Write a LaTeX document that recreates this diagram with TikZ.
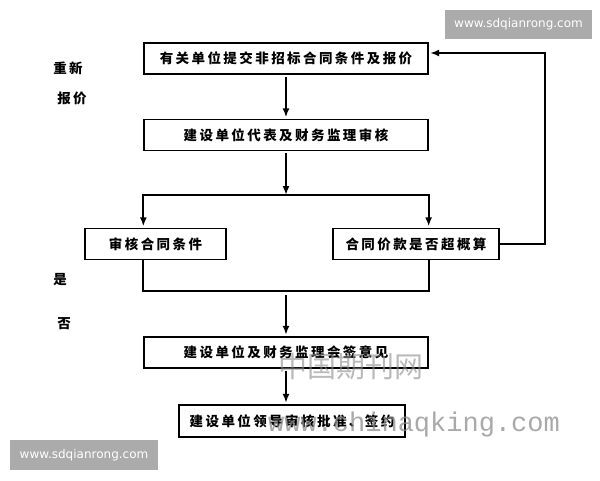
\documentclass[tikz,border=0pt]{standalone}
\usepackage{fontspec}
\newfontfamily\cjk[LetterSpace=18]{Noto Sans CJK SC}
\newfontfamily\wmcjk{Noto Sans CJK SC}
\newfontfamily\badgefont{DejaVu Sans}
\newfontfamily\markfont{Liberation Mono}
\usetikzlibrary{arrows.meta,positioning,calc}

\definecolor{badgegray}{HTML}{ABABAB}
\definecolor{markgray}{HTML}{8C8C8C}

\tikzset{
    box/.style={draw, line width=1.3pt, minimum width=284pt, minimum height=31pt, inner sep=0pt,
        font=\cjk\bfseries\fontsize{13.5}{13.5}\selectfont},
    side/.style={font=\cjk\bfseries\fontsize{13.5}{13.5}\selectfont},
    flow/.style={line width=2pt},
    arrow/.style={flow, -{Latex[length=9pt,width=7pt]}, shorten >=1.5pt, shorten <=2pt},
    badge/.style={fill=badgegray, text=white, minimum width=148pt, minimum height=30pt, inner sep=0pt,
        font=\badgefont\fontsize{12}{12}\selectfont},
}

\begin{document}
\begin{tikzpicture}[x=1pt, y=-1pt]
    \useasboundingbox (0,0) rectangle (600,480);

    % Steps
    \node [box] (submit) at (286, 58.5) {有关单位提交非招标合同条件及报价};
    \node [box] (review) at (286, 135) {建设单位代表及财务监理审核};
    \node [box, minimum width=141pt] (terms) at (155.5, 244) {审核合同条件};
    \node [box, minimum width=166pt] (budget) at (416, 244) {合同价款是否超概算};
    \node [box] (sign) at (286, 352.5) {建设单位及财务监理会签意见};
    \node [box, minimum width=226pt, minimum height=32pt] (approve) at (292, 421) {建设单位领导审核批准、签约};

    % Side labels
    \node [side] (requote1) at (68, 68) {重新};
    \node [side] (requote2) at (72, 98) {报价};
    \node [side] (yes) at (60, 280) {是};
    \node [side] (no) at (64, 324) {否};

    % Connectors
    \coordinate (split) at (286, 195);
    \coordinate (merge) at (286, 291);
    \coordinate (loop) at (545, 53);
    \draw [arrow] (submit) -- (review);
    \draw [arrow, shorten >=0pt] (review) -- (split);
    \draw [arrow, shorten <=0pt] (split) -| (submit.west |- terms.north);
    \draw [arrow, shorten <=0pt] (split) -| (submit.east |- budget.north);
    \draw [flow] (submit.west |- terms.south) |- (merge) -| (submit.east |- budget.south);
    \draw [arrow, shorten <=4pt] (merge) -- (sign);
    \draw [arrow] (sign) -- (sign |- approve.north);
    \draw [arrow, shorten <=0pt] (budget.east) -| (loop) -- (submit.east |- loop);

    % Watermarks
    \node [badge, minimum width=147pt, minimum height=29pt] (badgetop) at (518.5, 24.5) {www.sdqianrong.com};
    \node [badge] (badgebottom) at (84, 455) {www.sdqianrong.com};
    \node [font=\wmcjk\fontsize{29}{29}\selectfont, text=markgray, opacity=0.6] (markcn) at (351, 367) {中国期刊网};
    \node [font=\markfont\fontsize{27}{27}\selectfont, text=markgray, opacity=0.75] (markurl) at (414, 425) {www.chinaqking.com};
\end{tikzpicture}
\end{document}
